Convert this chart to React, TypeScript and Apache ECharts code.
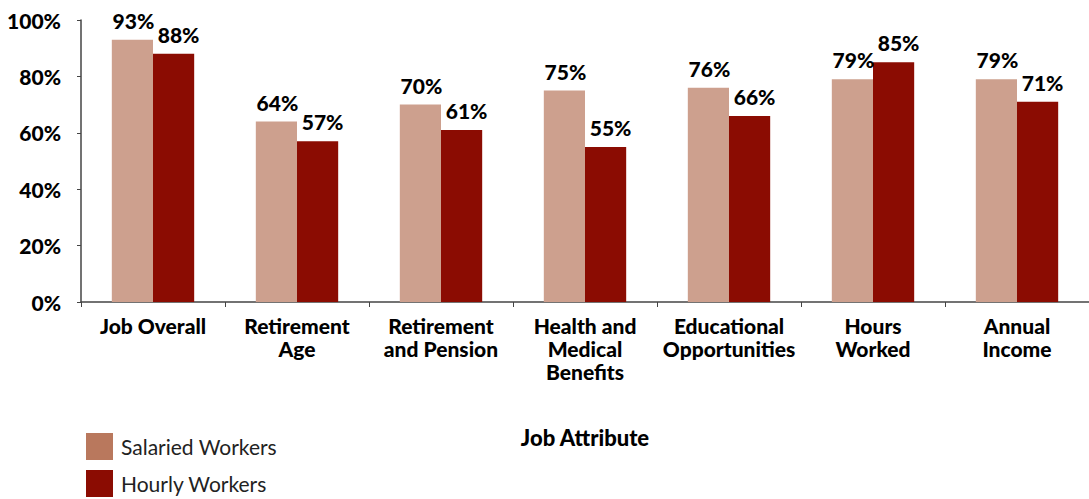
import React, { useEffect, useRef } from "react";
import * as echarts from "echarts";

const categories = [
  "Job Overall",
  "Retirement\nAge",
  "Retirement\nand Pension",
  "Health and\nMedical\nBenefits",
  "Educational\nOpportunities",
  "Hours\nWorked",
  "Annual\nIncome",
];
const salaried = [93, 64, 70, 75, 76, 79, 79];
const hourly = [88, 57, 61, 55, 66, 85, 71];
const yTicks = [0, 20, 40, 60, 80, 100];

const FONT = "Lato";

export default function App() {
  const ref = useRef<HTMLDivElement>(null);
  useEffect(() => {
    const chart = echarts.init(ref.current!, null, { renderer: "svg" });
    const mkLabel = (dx: number) => ({
      show: true,
      position: "top",
      distance: 9,
      offset: [dx, 0],
      formatter: "{c}%",
      color: "#000",
      fontFamily: FONT,
      fontWeight: 900,
      fontSize: 21,
    });
    chart.setOption({
      animation: false,
      backgroundColor: "#fff",
      grid: { left: 81, right: -7, top: 20, bottom: 197, containLabel: false },
      legend: {
        orient: "vertical",
        left: 86,
        top: 433,
        padding: 0,
        icon: "rect",
        itemWidth: 27,
        itemHeight: 27,
        itemGap: 10,
        selectedMode: false,
        textStyle: { fontFamily: FONT, fontSize: 21, color: "#222", padding: [0, 0, 0, 3] },
        data: [
          { name: "Salaried Workers", itemStyle: { color: "#B9785D" } },
          { name: "Hourly Workers", itemStyle: { color: "#8B0C02" } },
        ],
      },
      xAxis: {
        type: "category",
        data: categories,
        name: "Job Attribute",
        nameLocation: "middle",
        nameGap: 124,
        nameTextStyle: { fontFamily: FONT, fontWeight: 900, fontSize: 22, color: "#000" },
        axisLine: { lineStyle: { color: "#444", width: 1.5 } },
        axisTick: { show: true, length: 5, lineStyle: { color: "#444" } },
        axisLabel: {
          interval: 0,
          margin: 12,
          fontFamily: FONT,
          fontWeight: 900,
          fontSize: 21,
          lineHeight: 23,
          color: "#000",
        },
      },
      yAxis: {
        type: "value",
        min: 0,
        max: 100,
        interval: 20,
        axisLine: { show: true, lineStyle: { color: "#444", width: 1.5 } },
        axisTick: { show: true, length: 4, lineStyle: { color: "#444" } },
        splitLine: { show: false },
        axisLabel: {
          margin: 20,
          fontFamily: FONT,
          fontWeight: 900,
          fontSize: 21,
          color: "#000",
          formatter: (v: number) => (yTicks.includes(v) ? v + "%" : ""),
        },
      },
      series: [
        {
          name: "Salaried Workers",
          type: "bar",
          data: salaried,
          barWidth: "28.6%",
          barGap: "0%",
          itemStyle: { color: "#CDA08E" },
          label: mkLabel(1),
        },
        {
          name: "Hourly Workers",
          type: "bar",
          data: hourly,
          barWidth: "28.6%",
          barGap: "0%",
          itemStyle: { color: "#8B0C02" },
          label: mkLabel(5),
        },
      ],
    });
    return () => chart.dispose();
  }, []);
  return <div ref={ref} style={{ width: 1089, height: 499, position: "absolute", left: 0, top: 0 }} />;
}
